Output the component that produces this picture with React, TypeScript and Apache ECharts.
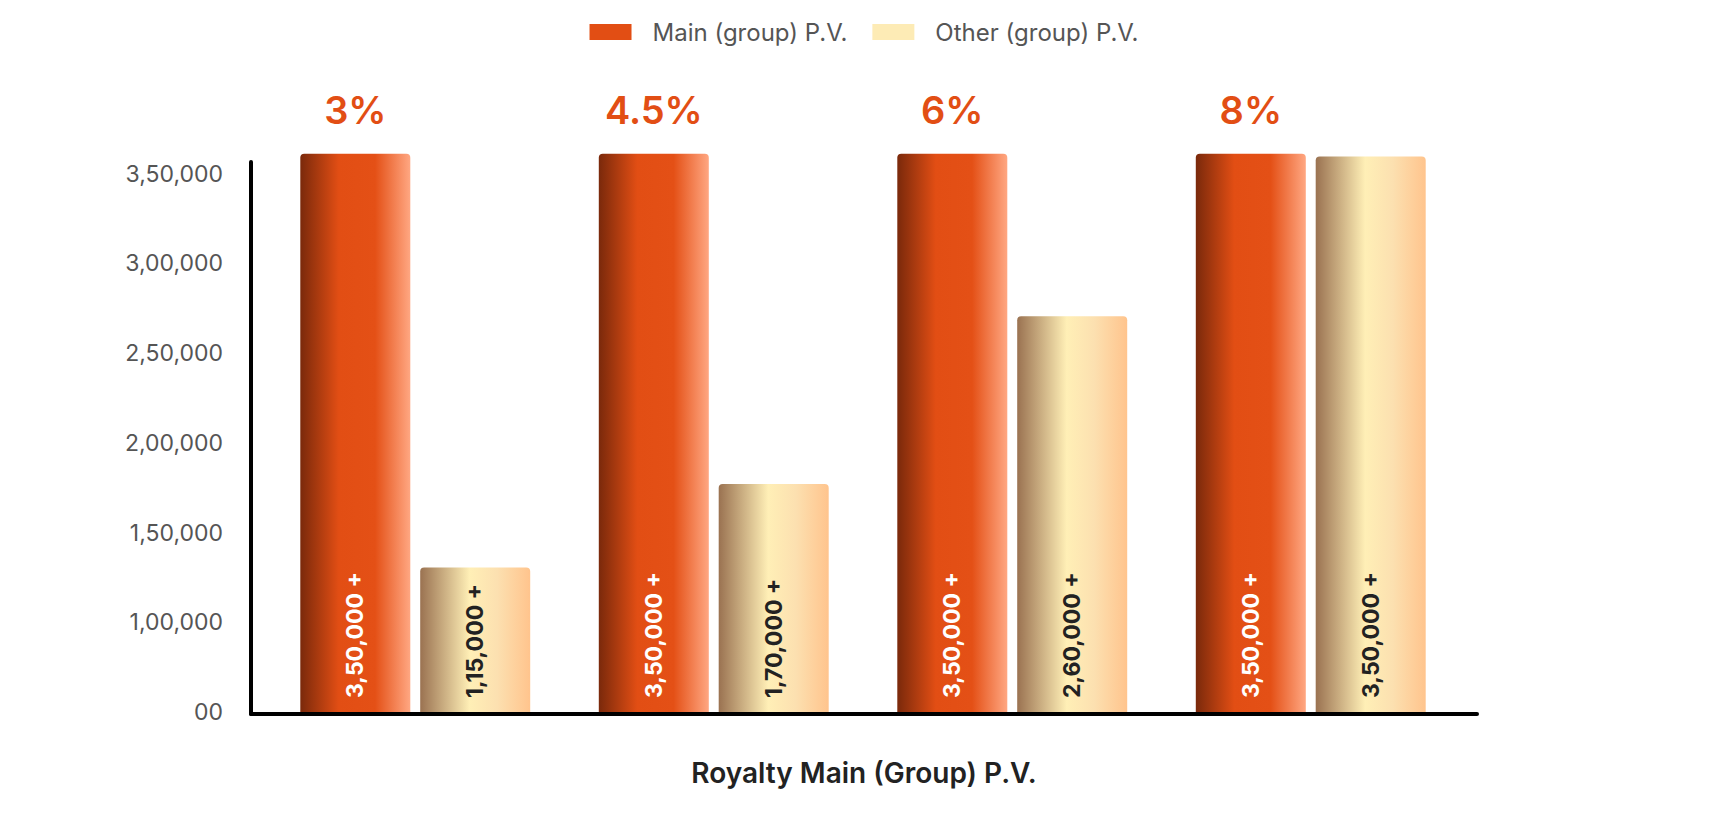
import React, { useEffect, useRef } from 'react';
import * as echarts from 'echarts';

// royalty slabs (x categories, also shown as the % labels over the main bars)
const categories = ['3%', '4.5%', '6%', '8%'];

// bar heights
const mainValues = [361000, 361000, 361000, 361000];
const otherValues = [130500, 177000, 270500, 359500];

// texts written inside the bars
const mainLabels = ['3,50,000 +', '3,50,000 +', '3,50,000 +', '3,50,000 +'];
const otherLabels = ['1,15,000 +', '1,70,000 +', '2,60,000 +', '3,50,000 +'];

const seriesNames = ['Main (group) P.V.', 'Other (group) P.V.'];
const legendColors = ['#E24E14', '#FDEBB5'];

// the axis goes 00 -> 1,00,000 -> 1,50,000 ... in equal steps,
// so its origin ("00") sits one step below 1,00,000
const yStep = 50000;
const yBase = 50000;
const yTopTick = 350000;
const yTop = 362000;

const toIndian = (v: number) => {
  const s = String(Math.round(v));
  if (s.length <= 3) return s;
  const last3 = s.slice(-3);
  const rest = s.slice(0, -3).replace(/\B(?=(\d{2})+(?!\d))/g, ',');
  return rest + ',' + last3;
};

const App: React.FC = () => {
  const chartRef = useRef<HTMLDivElement>(null);

  useEffect(() => {
    if (!chartRef.current) return;
    const chart = echarts.init(chartRef.current, null, { renderer: 'svg' });

    const mainGradient = new echarts.graphic.LinearGradient(0, 0, 1, 0, [
      { offset: 0, color: '#7A290B' },
      { offset: 0.35, color: '#E24E14' },
      { offset: 0.68, color: '#E45016' },
      { offset: 1, color: '#FFA782' }
    ]);
    const otherGradient = new echarts.graphic.LinearGradient(0, 0, 1, 0, [
      { offset: 0, color: '#9A7251' },
      { offset: 0.45, color: '#FFEFB6' },
      { offset: 0.7, color: '#FCE0B0' },
      { offset: 1, color: '#FFC48D' }
    ]);

    const barLabel = {
      show: true,
      position: 'insideBottom',
      rotate: 90,
      align: 'left',
      verticalAlign: 'middle',
      distance: 14,
      fontSize: 23,
      fontWeight: 700
    };

    const option: echarts.EChartsOption = {
      animation: false,
      textStyle: { fontFamily: 'Inter' },
      legend: {
        top: 15,
        left: 'center',
        itemWidth: 42,
        itemHeight: 16,
        itemGap: 25,
        icon: 'rect',
        textStyle: { fontSize: 24, color: '#555555', padding: [0, 0, 0, 16] },
        data: seriesNames.map((name, i) => ({
          name,
          itemStyle: { color: legendColors[i] }
        }))
      },
      grid: [
        // bars
        { left: 266, right: 268, top: 152, bottom: 116 },
        // axis lines and axis title
        { left: 251, right: 251, top: 162, bottom: 114 }
      ],
      xAxis: [
        {
          type: 'category',
          gridIndex: 0,
          data: categories,
          axisLine: { show: false },
          axisTick: { show: false },
          axisLabel: { show: false }
        },
        {
          type: 'value',
          gridIndex: 1,
          name: 'Royalty Main (Group) P.V.',
          nameLocation: 'middle',
          nameGap: 45,
          nameTextStyle: { fontSize: 28, fontWeight: 600, color: '#222222' },
          axisLine: { show: true, onZero: false, lineStyle: { color: '#000000', width: 4 } },
          axisTick: { show: false },
          axisLabel: { show: false },
          splitLine: { show: false }
        }
      ],
      yAxis: [
        {
          type: 'value',
          gridIndex: 0,
          min: 0,
          max: yTop - yBase,
          interval: yStep,
          axisLine: { show: false },
          axisTick: { show: false },
          splitLine: { show: false },
          axisLabel: {
            fontSize: 23,
            color: '#555555',
            margin: 43,
            formatter: (v: number) => {
              const real = v + yBase;
              if (v % yStep !== 0 || real > yTopTick) return '';
              return v === 0 ? '00' : toIndian(real);
            }
          }
        },
        {
          type: 'value',
          gridIndex: 1,
          axisLine: { show: true, onZero: false, lineStyle: { color: '#000000', width: 4 } },
          axisTick: { show: false },
          axisLabel: { show: false },
          splitLine: { show: false }
        }
      ],
      series: [
        {
          name: seriesNames[0],
          type: 'bar',
          xAxisIndex: 0,
          yAxisIndex: 0,
          data: mainValues.map((v) => v - yBase),
          barWidth: 110,
          barGap: '9%',
          itemStyle: { color: mainGradient, borderRadius: [4, 4, 0, 0] },
          label: {
            ...barLabel,
            color: '#FFFFFF',
            formatter: (p: any) => mainLabels[p.dataIndex]
          },
          markPoint: {
            symbol: 'circle',
            symbolSize: 1,
            itemStyle: { color: 'rgba(0,0,0,0)' },
            data: categories.map((c, i) => ({ name: c, coord: [i, mainValues[i] - yBase] })),
            label: {
              show: true,
              position: 'top',
              distance: 24,
              formatter: '{b}',
              fontSize: 38,
              fontWeight: 600,
              color: '#E24E14'
            }
          }
        } as any,
        {
          name: seriesNames[1],
          type: 'bar',
          xAxisIndex: 0,
          yAxisIndex: 0,
          data: otherValues.map((v) => v - yBase),
          barWidth: 110,
          barGap: '9%',
          itemStyle: { color: otherGradient, borderRadius: [4, 4, 0, 0] },
          label: {
            ...barLabel,
            color: '#222222',
            formatter: (p: any) => otherLabels[p.dataIndex]
          }
        } as any
      ]
    };

    chart.setOption(option);

    return () => {
      chart.dispose();
    };
  }, []);

  return (
    <div
      ref={chartRef}
      style={{ position: 'absolute', left: 0, top: 0, width: 1728, height: 828, background: '#ffffff' }}
    />
  );
};

export default App;
